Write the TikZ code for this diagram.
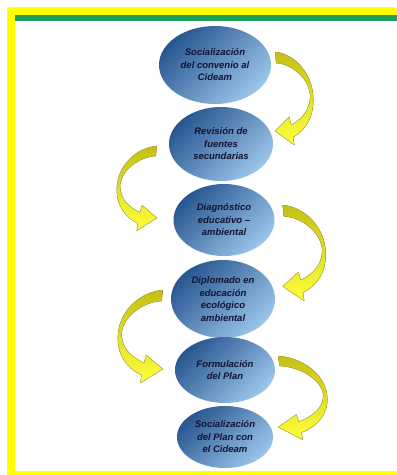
\documentclass[tikz,border=0pt]{standalone}
\usepackage{fontspec}
\setmainfont{Liberation Sans}
\usetikzlibrary{shapes.geometric,calc}
\definecolor{frameyellow}{RGB}{255,255,0}
\definecolor{framegreen}{RGB}{28,158,88}
\definecolor{elltop}{RGB}{40,86,144}
\definecolor{ellmid}{RGB}{80,135,195}
\definecolor{ellbot}{RGB}{155,198,234}
\definecolor{arrdark}{RGB}{196,192,20}
\definecolor{arrlight}{RGB}{255,255,60}
\definecolor{arredge}{RGB}{178,172,60}
\definecolor{textnavy}{RGB}{18,20,50}
\tikzset{
  actbox/.style={ellipse, inner sep=0pt, align=center, text=textnavy,
    font=\bfseries\itshape\fontsize{9.5}{12.5}\selectfont,
    top color=elltop, middle color=ellmid, bottom color=ellbot, shading angle=45},
  flowarrow/.pic={
    \fill[top color=arrdark, bottom color=arrlight, draw=arredge, line width=.4pt]
      (0,0) .. controls (20,2) and (37,22) .. (38,45)
      .. controls (39,64) and (31,78) .. (18,85)
      -- (19,93) -- (0,79) -- (14,65) -- (16,73)
      .. controls (26,67) and (34,60) .. (35,45)
      .. controls (35,28) and (18,12) .. (1,11) -- cycle;
  }
}
\begin{document}
\begin{tikzpicture}[x=1pt, y=-1pt]
      \useasboundingbox (0,0) rectangle (397,475);
      \fill[white] (0,0) rectangle (397,475);
      % frame
      \fill[frameyellow, rounded corners=3pt] (7,475) -- (7,7) -- (397,7) [sharp corners] -- (397,475) -- cycle;
      \fill[white] (15,20.5) rectangle (397,471);
      \fill[framegreen] (15,15) rectangle (397,20.5);
      % steps
      \node[actbox, minimum width=112pt, minimum height=78pt] (act1) at (215,65) {Socialización\\del convenio al\\Cideam};
      \node[actbox, minimum width=104pt, minimum height=74pt] (act2) at (221,144) {Revisión de\\fuentes\\secundarias};
      \node[actbox, minimum width=101pt, minimum height=72pt] (act3) at (224,220) {Diagnóstico\\educativo --\\ambiental};
      \node[actbox, minimum width=104pt, minimum height=78pt] (act4) at (223,299) {Diplomado en\\educación\\ecológico\\ambiental};
      \node[actbox, minimum width=100pt, minimum height=66pt] (act5) at (225,370) {Formulación\\del Plan};
      \node[actbox, minimum width=96pt, minimum height=62pt] (act6) at (225,437) {Socialización\\del Plan con\\el Cideam};
      % arrows
      \pic at ($(act1.east)+(4,-13)$) {flowarrow};
      \pic[xscale=-1.05, yscale=.91] at ($(act2.west)+(-12,2)$) {flowarrow};
      \pic[xscale=1.13, yscale=1.03] at ($(act3.east)+(8,-15)$) {flowarrow};
      \pic[xscale=-1.18, yscale=1] at ($(act4.west)+(-8,-9)$) {flowarrow};
      \pic[xscale=1.29, yscale=.9] at ($(act5.east)+(3,-14)$) {flowarrow};
    \end{tikzpicture}
\end{document}
